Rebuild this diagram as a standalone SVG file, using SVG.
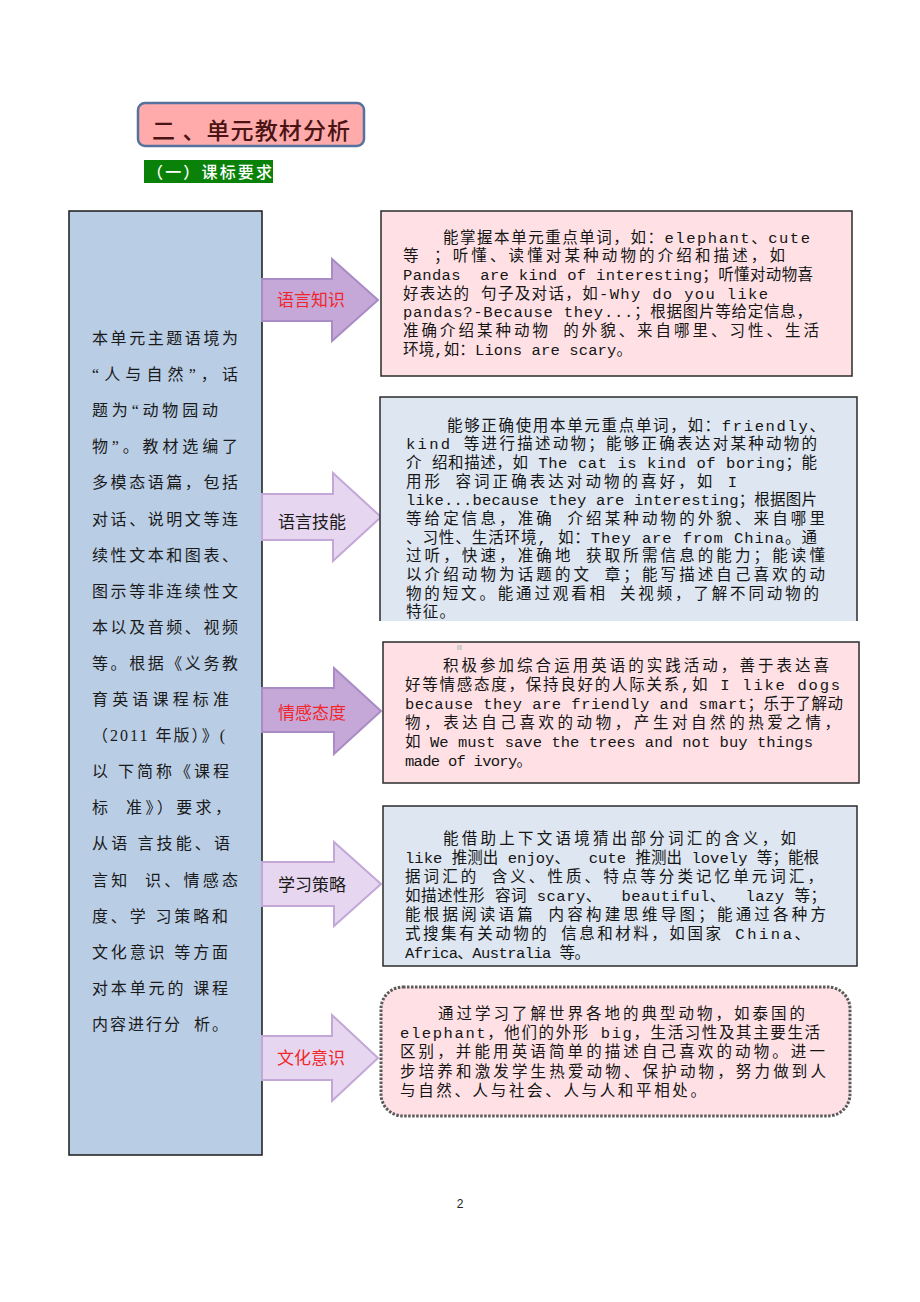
<svg xmlns="http://www.w3.org/2000/svg" width="920" height="1302" viewBox="0 0 920 1302">
<defs>
<style>
.t{font-family:"Liberation Mono","Noto Sans CJK SC",monospace;font-size:15.5px;fill:#151515;white-space:pre}
.lc{font-family:"Liberation Serif","Noto Sans CJK SC",serif;font-size:16px;fill:#1a1a1a;white-space:pre}
.lab{font-family:"Noto Sans CJK SC",sans-serif;font-size:17px;text-anchor:middle}
.red{fill:#F0262A}
.blk{fill:#1a1a1a}
.arD{fill:#C5A7D8;stroke:#A98BC6;stroke-width:2}
.arL{fill:#E6D6EF;stroke:#C3A7D7;stroke-width:2}
.pink{fill:#FFE1E5}
.blue{fill:#DDE6F1}
.bd{stroke:#2b2b2b;stroke-width:1.5}
</style>
</defs>
<rect width="920" height="1302" fill="#ffffff"/>

<g id="title">
<rect x="138" y="103" width="226" height="43" rx="7" fill="#FFABAB" stroke="#55729E" stroke-width="2.5"/>
<text x="152" y="139" textLength="198" font-family="Noto Sans CJK SC,sans-serif" font-size="23" font-weight="500" fill="#4A1414" style="white-space:pre">二 、单元教材分析</text>
</g>

<g id="subtitle">
<rect x="144" y="160" width="129" height="23" fill="#0A820A"/>
<text x="147" y="178" textLength="125" font-family="Noto Sans CJK SC,sans-serif" font-size="16" font-weight="500" fill="#ffffff">（一）课标要求</text>
</g>

<g id="left-column">
<rect x="69" y="211" width="193" height="944" fill="#B9CDE5" stroke="#1a1a1a" stroke-width="1.5"/>
<text class="lc" x="92" y="344" textLength="146">本单元主题语境为</text>
<text class="lc" x="92" y="380" textLength="146">“人与自然”，话</text>
<text class="lc" x="92" y="416" textLength="126">题为“动物园动</text>
<text class="lc" x="92" y="452" textLength="146">物”。教材选编了</text>
<text class="lc" x="92" y="488" textLength="146">多模态语篇，包括</text>
<text class="lc" x="92" y="525" textLength="146">对话、说明文等连</text>
<text class="lc" x="92" y="561" textLength="146">续性文本和图表、</text>
<text class="lc" x="92" y="597" textLength="146">图示等非连续性文</text>
<text class="lc" x="92" y="633" textLength="146">本以及音频、视频</text>
<text class="lc" x="92" y="669" textLength="146">等。根据《义务教</text>
<text class="lc" x="92" y="705" textLength="137">育英语课程标准</text>
<text class="lc" x="92" y="741" textLength="133">（2011 年版）》(</text>
<text class="lc" x="92" y="777" textLength="137">以 下简称《课程</text>
<text class="lc" x="92" y="813" textLength="139">标  准》）要求，</text>
<text class="lc" x="92" y="849" textLength="138">从语 言技能、语</text>
<text class="lc" x="92" y="886" textLength="146">言知  识、情感态</text>
<text class="lc" x="92" y="922" textLength="136">度、学 习策略和</text>
<text class="lc" x="92" y="958" textLength="136">文化意识 等方面</text>
<text class="lc" x="92" y="994" textLength="136">对本单元的 课程</text>
<text class="lc" x="92" y="1030" textLength="136">内容进行分  析。</text>
</g>

<g id="connectors">
<g id="arrow-knowledge">
<path class="arD" d="M262,279 H332 V259 L378,300 L332,341 V321 H262 Z"/>
<text class="lab red" x="311" y="306">语言知识</text>
</g>
<g id="arrow-skill">
<path class="arL" d="M262,494 H333 V473 L381,517 L333,561 V540 H262 Z"/>
<text class="lab blk" x="312" y="528">语言技能</text>
</g>
<g id="arrow-affect">
<path class="arD" d="M262,688 H334 V668 L381,711 L334,754 V732 H262 Z"/>
<text class="lab red" x="312" y="719">情感态度</text>
</g>
<g id="arrow-strategy">
<path class="arL" d="M262,862 H334 V842 L381,884 L334,926 V906 H262 Z"/>
<text class="lab blk" x="312" y="891">学习策略</text>
</g>
<g id="arrow-culture">
<path class="arL" d="M262,1036 H332 V1015 L378,1058 L332,1101 V1080 H262 Z"/>
<text class="lab red" x="311" y="1064">文化意识</text>
</g>
</g>

<g id="box-knowledge">
<rect class="pink bd" x="381" y="211" width="471" height="165"/>
<text class="t" x="443" y="243" textLength="367">能掌握本单元重点单词，如：elephant、cute</text>
<text class="t" x="403" y="261" textLength="382">等 ；听懂、读懂对某种动物的介绍和描述，如</text>
<text class="t" x="403" y="280" textLength="410">Pandas  are kind of interesting；听懂对动物喜</text>
<text class="t" x="403" y="299" textLength="365">好表达的 句子及对话，如-Why do you like</text>
<text class="t" x="403" y="317" textLength="409">pandas?-Because they...；根据图片等给定信息，</text>
<text class="t" x="403" y="336" textLength="416">准确介绍某种动物 的外貌、来自哪里、习性、生活</text>
<text class="t" x="403" y="355" textLength="229">环境,如：Lions are scary。</text>
</g>

<g id="box-skill">
<rect class="blue" x="380" y="397" width="477" height="224"/>
<path d="M380,621 V397 H857 V621" fill="none" class="bd"/>
<text class="t" x="447" y="431" textLength="378">能够正确使用本单元重点单词，如：friendly、</text>
<text class="t" x="406" y="449" textLength="411">kind 等进行描述动物；能够正确表达对某种动物的</text>
<text class="t" x="406" y="468" textLength="411">介 绍和描述，如 The cat is kind of boring；能</text>
<text class="t" x="406" y="487" textLength="331">用形 容词正确表达对动物的喜好，如 I</text>
<text class="t" x="406" y="505" textLength="411">like...because they are interesting；根据图片</text>
<text class="t" x="406" y="524" textLength="419">等给定信息，准确 介绍某种动物的外貌、来自哪里</text>
<text class="t" x="406" y="543" textLength="411">、习性、生活环境, 如：They are from China。通</text>
<text class="t" x="406" y="561" textLength="419">过听，快速，准确地 获取所需信息的能力；能读懂</text>
<text class="t" x="406" y="580" textLength="419">以介绍动物为话题的文 章；能写描述自己喜欢的动</text>
<text class="t" x="406" y="599" textLength="413">物的短文。能通过观看相 关视频，了解不同动物的</text>
<text class="t" x="406" y="617" textLength="49">特征。</text>
</g>

<g id="box-affect">
<rect class="pink bd" x="383" y="642" width="476" height="141"/>
<rect x="457" y="645" width="5" height="5" fill="#cfcfcf"/>
<text class="t" x="443" y="671" textLength="386">积极参加综合运用英语的实践活动，善于表达喜</text>
<text class="t" x="405" y="690" textLength="435">好等情感态度，保持良好的人际关系,如 I like dogs</text>
<text class="t" x="405" y="709" textLength="438">because they are friendly and smart；乐于了解动</text>
<text class="t" x="405" y="728" textLength="435">物，表达自己喜欢的动物，产生对自然的热爱之情，</text>
<text class="t" x="405" y="747" textLength="408">如 We must save the trees and not buy things</text>
<text class="t" x="405" y="766" textLength="127">made of ivory。</text>
</g>

<g id="box-strategy">
<rect class="blue bd" x="383" y="806" width="474" height="160"/>
<text class="t" x="443" y="844" textLength="353">能借助上下文语境猜出部分词汇的含义，如</text>
<text class="t" x="405" y="863" textLength="414">like 推测出 enjoy、  cute 推测出 lovely 等；能根</text>
<text class="t" x="405" y="882" textLength="418">据词汇的 含义、性质、特点等分类记忆单元词汇，</text>
<text class="t" x="405" y="901" textLength="421">如描述性形 容词 scary、  beautiful、  lazy 等；</text>
<text class="t" x="405" y="920" textLength="421">能根据阅读语篇 内容构建思维导图；能通过各种方</text>
<text class="t" x="405" y="939" textLength="405">式搜集有关动物的 信息和材料，如国家 China、</text>
<text class="t" x="405" y="958" textLength="185">Africa、Australia 等。</text>
</g>

<g id="box-culture">
<rect x="381" y="987" width="469" height="129" rx="22" fill="#FFE1E5" stroke="#5a5a5a" stroke-width="3" stroke-dasharray="2.5 1.5"/>
<text class="t" x="438" y="1019" textLength="367">通过学习了解世界各地的典型动物，如泰国的</text>
<text class="t" x="400" y="1038" textLength="420">elephant，他们的外形 big，生活习性及其主要生活</text>
<text class="t" x="400" y="1057" textLength="425">区别，并能用英语简单的描述自己喜欢的动物。进一</text>
<text class="t" x="400" y="1077" textLength="426">步培养和激发学生热爱动物、保护动物，努力做到人</text>
<text class="t" x="400" y="1096" textLength="306">与自然、人与社会、人与人和平相处。</text>
</g>

<g id="page-number">
<text x="460" y="1208" font-family="Liberation Sans,sans-serif" font-size="12" fill="#222" text-anchor="middle">2</text>
</g>
</svg>
